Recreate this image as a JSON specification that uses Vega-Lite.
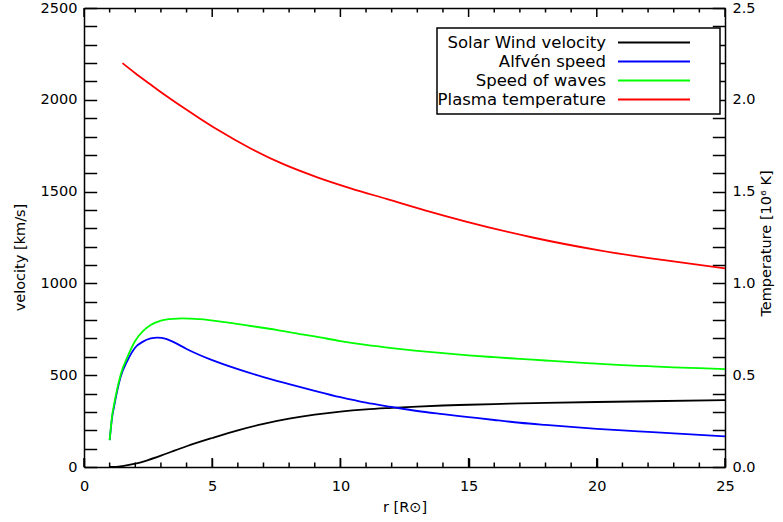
{
  "$schema": "https://vega.github.io/schema/vega-lite/v6.json",
  "width": 641,
  "height": 459,
  "autosize": "none",
  "padding": {"left": 84, "top": 8, "right": 58, "bottom": 55},
  "background": "white",
  "config": {
    "font": "DejaVu Sans",
    "view": {"stroke": null},
    "axis": {
      "domainColor": "black", "domainWidth": 1.5,
      "ticks": true, "tickColor": "black", "tickWidth": 1.5,
      "labelColor": "black", "titleColor": "black",
      "labelFont": "DejaVu Sans", "titleFont": "DejaVu Sans",
      "labelFontSize": 14.5, "titleFontSize": 14.5, "titleFontWeight": "normal",
      "grid": false, "labelFlush": false, "labelOverlap": false
    },
    "legend": {
      "title": null,
      "symbolType": "M-4.8,0H4.8M7.4,0",
      "symbolSize": 225,
      "symbolStrokeWidth": 1.8,
      "symbolOffset": 202.5,
      "labelAlign": "right",
      "labelOffset": -56.5,
      "labelLimit": 400,
      "labelFont": "DejaVu Sans",
      "labelFontSize": 16.5,
      "labelColor": "black",
      "rowPadding": 2,
      "padding": 6,
      "strokeColor": "black",
      "strokeWidth": 1.5,
      "fillColor": "white"
    }
  },
  "datasets": {
    "xticks": [
      {"r": 0}, {"r": 1}, {"r": 2}, {"r": 3}, {"r": 4}, {"r": 5}, {"r": 6}, {"r": 7}, {"r": 8}, {"r": 9},
      {"r": 10}, {"r": 11}, {"r": 12}, {"r": 13}, {"r": 14}, {"r": 15}, {"r": 16}, {"r": 17}, {"r": 18}, {"r": 19},
      {"r": 20}, {"r": 21}, {"r": 22}, {"r": 23}, {"r": 24}, {"r": 25}
    ],
    "vel": [
      {"r": 1, "series": "Solar Wind velocity", "v": 0},
      {"r": 1.25, "series": "Solar Wind velocity", "v": 1},
      {"r": 1.5, "series": "Solar Wind velocity", "v": 5},
      {"r": 2, "series": "Solar Wind velocity", "v": 18},
      {"r": 2.5, "series": "Solar Wind velocity", "v": 38},
      {"r": 3, "series": "Solar Wind velocity", "v": 62},
      {"r": 3.5, "series": "Solar Wind velocity", "v": 88},
      {"r": 4, "series": "Solar Wind velocity", "v": 113},
      {"r": 5, "series": "Solar Wind velocity", "v": 158},
      {"r": 6, "series": "Solar Wind velocity", "v": 200},
      {"r": 7, "series": "Solar Wind velocity", "v": 235},
      {"r": 8, "series": "Solar Wind velocity", "v": 263},
      {"r": 9, "series": "Solar Wind velocity", "v": 285},
      {"r": 10, "series": "Solar Wind velocity", "v": 302},
      {"r": 11, "series": "Solar Wind velocity", "v": 314},
      {"r": 12, "series": "Solar Wind velocity", "v": 322},
      {"r": 13, "series": "Solar Wind velocity", "v": 329},
      {"r": 14, "series": "Solar Wind velocity", "v": 335},
      {"r": 15, "series": "Solar Wind velocity", "v": 339},
      {"r": 16, "series": "Solar Wind velocity", "v": 343},
      {"r": 17, "series": "Solar Wind velocity", "v": 346},
      {"r": 18, "series": "Solar Wind velocity", "v": 349},
      {"r": 20, "series": "Solar Wind velocity", "v": 354},
      {"r": 22, "series": "Solar Wind velocity", "v": 358},
      {"r": 25, "series": "Solar Wind velocity", "v": 364},

      {"r": 1, "series": "Alfvén speed", "v": 146},
      {"r": 1.05, "series": "Alfvén speed", "v": 215},
      {"r": 1.1, "series": "Alfvén speed", "v": 273},
      {"r": 1.17, "series": "Alfvén speed", "v": 327},
      {"r": 1.3, "series": "Alfvén speed", "v": 418},
      {"r": 1.43, "series": "Alfvén speed", "v": 491},
      {"r": 1.69, "series": "Alfvén speed", "v": 578},
      {"r": 2, "series": "Alfvén speed", "v": 651},
      {"r": 2.3, "series": "Alfvén speed", "v": 683},
      {"r": 2.6, "series": "Alfvén speed", "v": 700},
      {"r": 2.86, "series": "Alfvén speed", "v": 705},
      {"r": 3.2, "series": "Alfvén speed", "v": 698},
      {"r": 3.5, "series": "Alfvén speed", "v": 680},
      {"r": 4, "series": "Alfvén speed", "v": 643},
      {"r": 5, "series": "Alfvén speed", "v": 582},
      {"r": 6, "series": "Alfvén speed", "v": 533},
      {"r": 7, "series": "Alfvén speed", "v": 490},
      {"r": 8, "series": "Alfvén speed", "v": 452},
      {"r": 9, "series": "Alfvén speed", "v": 415},
      {"r": 10, "series": "Alfvén speed", "v": 380},
      {"r": 11, "series": "Alfvén speed", "v": 350},
      {"r": 12, "series": "Alfvén speed", "v": 327},
      {"r": 13, "series": "Alfvén speed", "v": 305},
      {"r": 14, "series": "Alfvén speed", "v": 288},
      {"r": 15, "series": "Alfvén speed", "v": 272},
      {"r": 16, "series": "Alfvén speed", "v": 256},
      {"r": 17, "series": "Alfvén speed", "v": 241},
      {"r": 18, "series": "Alfvén speed", "v": 229},
      {"r": 19, "series": "Alfvén speed", "v": 218},
      {"r": 20, "series": "Alfvén speed", "v": 208},
      {"r": 21, "series": "Alfvén speed", "v": 199},
      {"r": 22, "series": "Alfvén speed", "v": 191},
      {"r": 23, "series": "Alfvén speed", "v": 183},
      {"r": 24, "series": "Alfvén speed", "v": 175},
      {"r": 25, "series": "Alfvén speed", "v": 167},

      {"r": 1, "series": "Speed of waves", "v": 146},
      {"r": 1.05, "series": "Speed of waves", "v": 218},
      {"r": 1.1, "series": "Speed of waves", "v": 282},
      {"r": 1.17, "series": "Speed of waves", "v": 338},
      {"r": 1.3, "series": "Speed of waves", "v": 428},
      {"r": 1.43, "series": "Speed of waves", "v": 503},
      {"r": 1.69, "series": "Speed of waves", "v": 598},
      {"r": 2, "series": "Speed of waves", "v": 688},
      {"r": 2.3, "series": "Speed of waves", "v": 740},
      {"r": 2.6, "series": "Speed of waves", "v": 773},
      {"r": 3, "series": "Speed of waves", "v": 797},
      {"r": 3.5, "series": "Speed of waves", "v": 807},
      {"r": 3.8, "series": "Speed of waves", "v": 809},
      {"r": 4.5, "series": "Speed of waves", "v": 805},
      {"r": 5.5, "series": "Speed of waves", "v": 789},
      {"r": 6.5, "series": "Speed of waves", "v": 768},
      {"r": 7.5, "series": "Speed of waves", "v": 747},
      {"r": 8.5, "series": "Speed of waves", "v": 722},
      {"r": 9, "series": "Speed of waves", "v": 711},
      {"r": 10, "series": "Speed of waves", "v": 686},
      {"r": 11, "series": "Speed of waves", "v": 665},
      {"r": 12, "series": "Speed of waves", "v": 648},
      {"r": 13, "series": "Speed of waves", "v": 633},
      {"r": 14, "series": "Speed of waves", "v": 620},
      {"r": 15, "series": "Speed of waves", "v": 608},
      {"r": 16, "series": "Speed of waves", "v": 598},
      {"r": 17, "series": "Speed of waves", "v": 589},
      {"r": 18, "series": "Speed of waves", "v": 580},
      {"r": 19, "series": "Speed of waves", "v": 571},
      {"r": 20, "series": "Speed of waves", "v": 563},
      {"r": 21, "series": "Speed of waves", "v": 555},
      {"r": 22, "series": "Speed of waves", "v": 549},
      {"r": 23, "series": "Speed of waves", "v": 543},
      {"r": 24, "series": "Speed of waves", "v": 538},
      {"r": 25, "series": "Speed of waves", "v": 533}
    ],
    "temp": [
      {"r": 1.5, "series": "Plasma temperature", "T": 2.2},
      {"r": 2.0, "series": "Plasma temperature", "T": 2.145},
      {"r": 2.6, "series": "Plasma temperature", "T": 2.083},
      {"r": 3.2, "series": "Plasma temperature", "T": 2.022},
      {"r": 3.9, "series": "Plasma temperature", "T": 1.955},
      {"r": 4.5, "series": "Plasma temperature", "T": 1.9},
      {"r": 5.2, "series": "Plasma temperature", "T": 1.838},
      {"r": 6.5, "series": "Plasma temperature", "T": 1.735},
      {"r": 7.8, "series": "Plasma temperature", "T": 1.648},
      {"r": 9.1, "series": "Plasma temperature", "T": 1.578},
      {"r": 10.4, "series": "Plasma temperature", "T": 1.518},
      {"r": 11.8, "series": "Plasma temperature", "T": 1.46},
      {"r": 13.3, "series": "Plasma temperature", "T": 1.398},
      {"r": 14.9, "series": "Plasma temperature", "T": 1.337},
      {"r": 17.5, "series": "Plasma temperature", "T": 1.25},
      {"r": 20.1, "series": "Plasma temperature", "T": 1.18},
      {"r": 22.7, "series": "Plasma temperature", "T": 1.125},
      {"r": 25, "series": "Plasma temperature", "T": 1.082}
    ]
  },
  "layer": [
    {
      "data": {"name": "vel"},
      "mark": {"type": "line", "strokeWidth": 1.8, "interpolate": "monotone"},
      "encoding": {
        "x": {
          "field": "r", "type": "quantitative",
          "scale": {"domain": [0, 25], "nice": false, "zero": false},
          "axis": {
            "orient": "bottom",
            "values": [0,5,10,15,20,25],
            "ticks": true,
            "tickSize": -9,
            "labelPadding": 21,
            "title": "r [R⊙]",
            "titleY": 40,
            "titleBaseline": "middle"
          }
        },
        "y": {
          "field": "v", "type": "quantitative",
          "scale": {"domain": [0, 2500], "nice": false},
          "axis": {
            "orient": "left",
            "values": [0,100,200,300,400,500,600,700,800,900,1000,1100,1200,1300,1400,1500,1600,1700,1800,1900,2000,2100,2200,2300,2400,2500],
            "labelExpr": "datum.value % 500 === 0 ? datum.value : ''",
            "ticks": true,
            "tickSize": -12.7,
            "labelPadding": 19.7,
            "encode": {"ticks": {"update": {"x2": [{"test": "datum.value % 500 === 0", "value": 12.7}, {"value": 6.5}]}}},
            "title": "velocity [km/s]",
            "titleX": -64,
            "titleY": 249,
            "titleAngle": 270,
            "titleAlign": "center",
            "titleBaseline": "middle"
          }
        },
        "color": {
          "field": "series", "type": "nominal",
          "scale": {
            "domain": ["Solar Wind velocity", "Alfvén speed", "Speed of waves", "Plasma temperature"],
            "range": ["#000000", "#0000ff", "#00ff00", "#ff0000"]
          },
          "legend": {"orient": "none", "legendX": 353, "legendY": 20}
        }
      }
    },
    {
      "data": {"name": "temp"},
      "mark": {"type": "line", "strokeWidth": 1.8, "interpolate": "monotone"},
      "encoding": {
        "x": {
          "field": "r", "type": "quantitative",
          "scale": {"domain": [0, 25], "nice": false, "zero": false},
          "axis": {
            "orient": "top",
            "values": [0,5,10,15,20,25],
            "labels": false,
            "ticks": false,
            "title": null
          }
        },
        "y": {
          "field": "T", "type": "quantitative",
          "scale": {"domain": [0, 2.5], "nice": false},
          "axis": {
            "orient": "right",
            "values": [0,0.1,0.2,0.3,0.4,0.5,0.6,0.7,0.8,0.9,1,1.1,1.2,1.3,1.4,1.5,1.6,1.7,1.8,1.9,2,2.1,2.2,2.3,2.4,2.5],
            "format": ".1f",
            "labelExpr": "abs(datum.value * 2 - round(datum.value * 2)) < 0.001 ? datum.label : ''",
            "ticks": true,
            "tickSize": -12.7,
            "labelPadding": 19.7,
            "encode": {"ticks": {"update": {"x2": [{"test": "abs(datum.value * 2 - round(datum.value * 2)) < 0.001", "value": -12.7}, {"value": -6.5}]}}},
            "title": "Temperature [10⁶ K]",
            "titleX": 41.5,
            "titleY": 235,
            "titleAngle": 270,
            "titleAlign": "center",
            "titleBaseline": "middle"
          }
        },
        "color": {
          "field": "series", "type": "nominal",
          "scale": {
            "domain": ["Solar Wind velocity", "Alfvén speed", "Speed of waves", "Plasma temperature"],
            "range": ["#000000", "#0000ff", "#00ff00", "#ff0000"]
          },
          "legend": {"orient": "none", "legendX": 353, "legendY": 20}
        }
      }
    },
    {
      "data": {"name": "xticks"},
      "transform": [{"filter": "datum.r % 5 === 0"}],
      "mark": {"type": "rule", "color": "black", "strokeWidth": 1.5, "y2Offset": -9},
      "encoding": {
        "x": {"field": "r", "type": "quantitative", "scale": {"domain": [0, 25], "nice": false, "zero": false}, "axis": null},
        "y": {"datum": 0, "type": "quantitative", "scale": {"domain": [0, 2500], "nice": false}, "axis": null},
        "y2": {"datum": 0}
      }
    },
    {
      "data": {"name": "xticks"},
      "transform": [{"filter": "datum.r % 5 !== 0"}],
      "mark": {"type": "rule", "color": "black", "strokeWidth": 1.5, "y2Offset": -4.5},
      "encoding": {
        "x": {"field": "r", "type": "quantitative", "scale": {"domain": [0, 25], "nice": false, "zero": false}, "axis": null},
        "y": {"datum": 0, "type": "quantitative", "scale": {"domain": [0, 2500], "nice": false}, "axis": null},
        "y2": {"datum": 0}
      }
    },
    {
      "data": {"name": "xticks"},
      "transform": [{"filter": "datum.r % 5 === 0"}],
      "mark": {"type": "rule", "color": "black", "strokeWidth": 1.5, "y2Offset": 9},
      "encoding": {
        "x": {"field": "r", "type": "quantitative", "scale": {"domain": [0, 25], "nice": false, "zero": false}, "axis": null},
        "y": {"datum": 2500, "type": "quantitative", "scale": {"domain": [0, 2500], "nice": false}, "axis": null},
        "y2": {"datum": 2500}
      }
    },
    {
      "data": {"name": "xticks"},
      "transform": [{"filter": "datum.r % 5 !== 0"}],
      "mark": {"type": "rule", "color": "black", "strokeWidth": 1.5, "y2Offset": 4.5},
      "encoding": {
        "x": {"field": "r", "type": "quantitative", "scale": {"domain": [0, 25], "nice": false, "zero": false}, "axis": null},
        "y": {"datum": 2500, "type": "quantitative", "scale": {"domain": [0, 2500], "nice": false}, "axis": null},
        "y2": {"datum": 2500}
      }
    }
  ],
  "resolve": {
    "scale": {"x": "independent", "y": "independent"},
    "axis": {"x": "independent", "y": "independent"}
  }
}
